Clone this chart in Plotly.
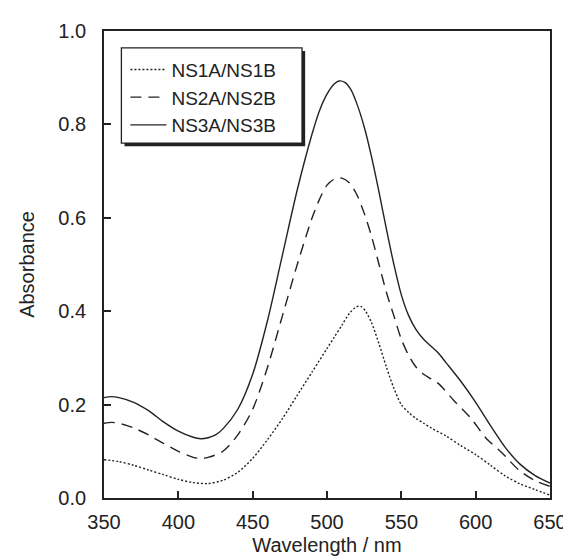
import plotly.graph_objects as go

wl_ns3 = [350, 355, 360, 370, 380, 390, 400, 410, 415, 420, 425, 430, 440, 450, 460, 470, 480, 490, 495, 500, 505, 508, 512, 516, 520, 525, 530, 535, 540, 545, 550, 555, 560, 565, 570, 575, 580, 590, 600, 610, 620, 630, 640, 650]
abs_ns3 = [0.215, 0.217, 0.215, 0.205, 0.187, 0.163, 0.143, 0.13, 0.127, 0.129, 0.135, 0.148, 0.19, 0.265, 0.38, 0.52, 0.66, 0.78, 0.83, 0.865, 0.887, 0.893, 0.89, 0.875, 0.845, 0.795, 0.73, 0.655, 0.575, 0.5, 0.435, 0.39, 0.36, 0.34, 0.325, 0.31, 0.29, 0.25, 0.205, 0.155, 0.108, 0.072, 0.048, 0.032]

wl_ns2 = [350, 355, 360, 370, 380, 390, 400, 410, 415, 420, 430, 440, 450, 460, 470, 480, 490, 495, 500, 505, 510, 515, 520, 525, 530, 535, 540, 545, 550, 555, 560, 565, 570, 575, 585, 597, 607, 618, 629, 640, 650]
abs_ns2 = [0.16, 0.162, 0.16, 0.15, 0.135, 0.117, 0.1, 0.087, 0.085, 0.087, 0.1, 0.135, 0.19, 0.28, 0.39, 0.5, 0.6, 0.64, 0.67, 0.683, 0.685, 0.675, 0.65, 0.61, 0.56, 0.5, 0.44, 0.39, 0.34, 0.305, 0.28, 0.265, 0.255, 0.245, 0.21, 0.17, 0.128, 0.096, 0.06, 0.037, 0.025]

wl_ns1 = [350, 360, 370, 380, 390, 400, 410, 420, 430, 440, 450, 460, 470, 480, 490, 500, 505, 510, 515, 520, 523, 526, 530, 535, 540, 545, 550, 555, 560, 565, 570, 580, 590, 600, 610, 620, 630, 640, 650]
abs_ns1 = [0.082, 0.078, 0.07, 0.06, 0.05, 0.04, 0.033, 0.031, 0.038, 0.055, 0.085, 0.125, 0.17, 0.22, 0.27, 0.32, 0.345, 0.37, 0.395, 0.41, 0.41, 0.4, 0.375, 0.33, 0.28, 0.235, 0.2, 0.183, 0.17, 0.16, 0.15, 0.133, 0.112, 0.093, 0.07, 0.047, 0.03, 0.018, 0.006]

series_names = ["NS1A/NS1B", "NS2A/NS2B", "NS3A/NS3B"]
x_ticks = [350, 400, 450, 500, 550, 600, 650]
y_ticks = [0.0, 0.2, 0.4, 0.6, 0.8, 1.0]

FONT = "Liberation Sans, Arial, sans-serif"
INK = "#222222"

fig = go.Figure()
fig.add_trace(go.Scatter(x=wl_ns1, y=abs_ns1, mode="lines", name=series_names[0],
                         line=dict(color=INK, width=1.4, dash="2px,2px", shape="spline", smoothing=0.8)))
fig.add_trace(go.Scatter(x=wl_ns2, y=abs_ns2, mode="lines", name=series_names[1],
                         line=dict(color=INK, width=1.4, dash="11px,7px", shape="spline", smoothing=0.8)))
fig.add_trace(go.Scatter(x=wl_ns3, y=abs_ns3, mode="lines", name=series_names[2],
                         line=dict(color=INK, width=1.4, shape="spline", smoothing=0.8)))

# legend frame with drop shadow
fig.add_shape(type="rect", xref="paper", yref="paper", x0=0.046, x1=0.451, y0=0.753, y1=0.957,
              line=dict(width=0), fillcolor=INK, layer="above")
fig.add_shape(type="rect", xref="paper", yref="paper", x0=0.039, x1=0.444, y0=0.760, y1=0.964,
              line=dict(width=1.3, color=INK), fillcolor="white", layer="above")

fig.update_layout(
    width=571, height=559,
    margin=dict(l=96, r=16, t=22, b=69),
    paper_bgcolor="white", plot_bgcolor="white",
    font=dict(family=FONT, size=20, color=INK),
    showlegend=True,
    legend=dict(x=0.048, y=0.958, xanchor="left", yanchor="top",
                bgcolor="rgba(0,0,0,0)", borderwidth=0,
                font=dict(family=FONT, size=19, color=INK),
                tracegroupgap=0, itemwidth=36),
    xaxis=dict(range=[350, 650], tickvals=x_ticks, ticks="inside", ticklen=7, tickcolor=INK, tickwidth=1.5,
               showline=True, linecolor=INK, linewidth=1.8, mirror=True, showgrid=False, zeroline=False,
               title=dict(text="Wavelength / nm", font=dict(size=20), standoff=6),
               tickfont=dict(size=20), ticklabelstandoff=5, ticklabeloverflow="allow"),
    yaxis=dict(range=[0, 1.0], tickvals=y_ticks, tickformat=".1f", ticks="inside", ticklen=7, tickcolor=INK, tickwidth=1.5,
               showline=True, linecolor=INK, linewidth=1.8, mirror=True, showgrid=False, zeroline=False,
               title=dict(text="Absorbance", font=dict(size=20), standoff=18),
               tickfont=dict(size=20), ticklabelstandoff=12, ticklabeloverflow="allow"),
)

fig.write_html("out.html")
